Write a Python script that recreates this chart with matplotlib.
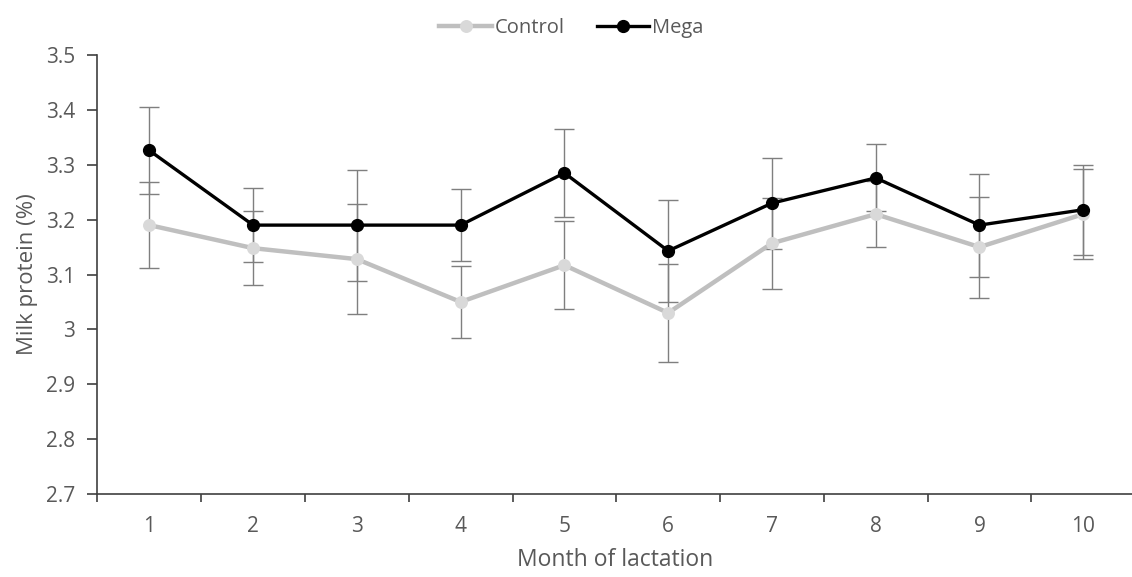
import matplotlib
matplotlib.use('Agg')
import matplotlib.pyplot as plt
import numpy as np
from matplotlib.ticker import FixedLocator

plt.rcParams['font.family'] = ['Open Sans', 'DejaVu Sans']

months = [1, 2, 3, 4, 5, 6, 7, 8, 9, 10]
control = [3.19, 3.148, 3.128, 3.05, 3.117, 3.03, 3.157, 3.21, 3.15, 3.21]
control_err = [0.079, 0.068, 0.10, 0.066, 0.08, 0.09, 0.083, 0.06, 0.092, 0.082]
mega = [3.326, 3.19, 3.19, 3.19, 3.285, 3.143, 3.23, 3.276, 3.19, 3.218]
mega_err = [0.079, 0.068, 0.101, 0.066, 0.08, 0.093, 0.083, 0.061, 0.094, 0.082]
ytick_labels = ['2.7', '2.8', '2.9', '3', '3.1', '3.2', '3.3', '3.4', '3.5']

txt = '#595959'
axc = '#404040'

fig = plt.figure(figsize=(11.32, 5.77), dpi=100)
ax = fig.add_axes([0.0861, 0.1438, 0.9139, 0.7609])

# error bars first so markers sit on top
ax.errorbar(months, control, yerr=control_err, fmt='none', ecolor='#7f7f7f',
            elinewidth=1, capsize=7.5, capthick=1, zorder=2)
ax.errorbar(months, mega, yerr=mega_err, fmt='none', ecolor='#7f7f7f',
            elinewidth=1, capsize=7.5, capthick=1, zorder=2)

ax.plot(months, control, color='#bfbfbf', lw=3.2, marker='o', ms=8.3,
        mfc='#d9d9d9', mec='#d9d9d9', label='Control', zorder=3)
ax.plot(months, mega, color='black', lw=2.4, marker='o', ms=8.5,
        mfc='black', mec='black', label='Mega', zorder=4)

ax.set_xlim(0.5, 10.47)
ax.set_ylim(2.7, 3.5)
ax.set_yticks(np.linspace(2.7, 3.5, 9))
ax.set_yticklabels(ytick_labels)

ax.set_xticks(months)
ax.xaxis.set_minor_locator(FixedLocator(np.arange(0.5, 10.5, 1.0)))
ax.tick_params(axis='x', which='major', length=0, pad=16, labelsize=15, labelcolor=txt)
ax.tick_params(axis='x', which='minor', length=6, width=1.2, color=axc, direction='out')
ax.tick_params(axis='y', which='major', length=7, width=1.2, color=axc, direction='out',
               pad=9, labelsize=15, labelcolor=txt)

for s in ['top', 'right']:
    ax.spines[s].set_visible(False)
for s in ['left', 'bottom']:
    ax.spines[s].set_color(axc)
    ax.spines[s].set_linewidth(1.2)

ax.set_ylabel('Milk protein (%)', fontsize=16, color=txt, labelpad=6)
ax.set_xlabel('Month of lactation', fontsize=16.5, color=txt, labelpad=8)

leg = fig.legend(loc='upper center', bbox_to_anchor=(0.505, 1.0), ncol=2, frameon=False,
                 fontsize=14.5, handlelength=2.6, columnspacing=1.6, handletextpad=0.15)
for t in leg.get_texts():
    t.set_color(txt)

fig.savefig('out.png', dpi=100)
